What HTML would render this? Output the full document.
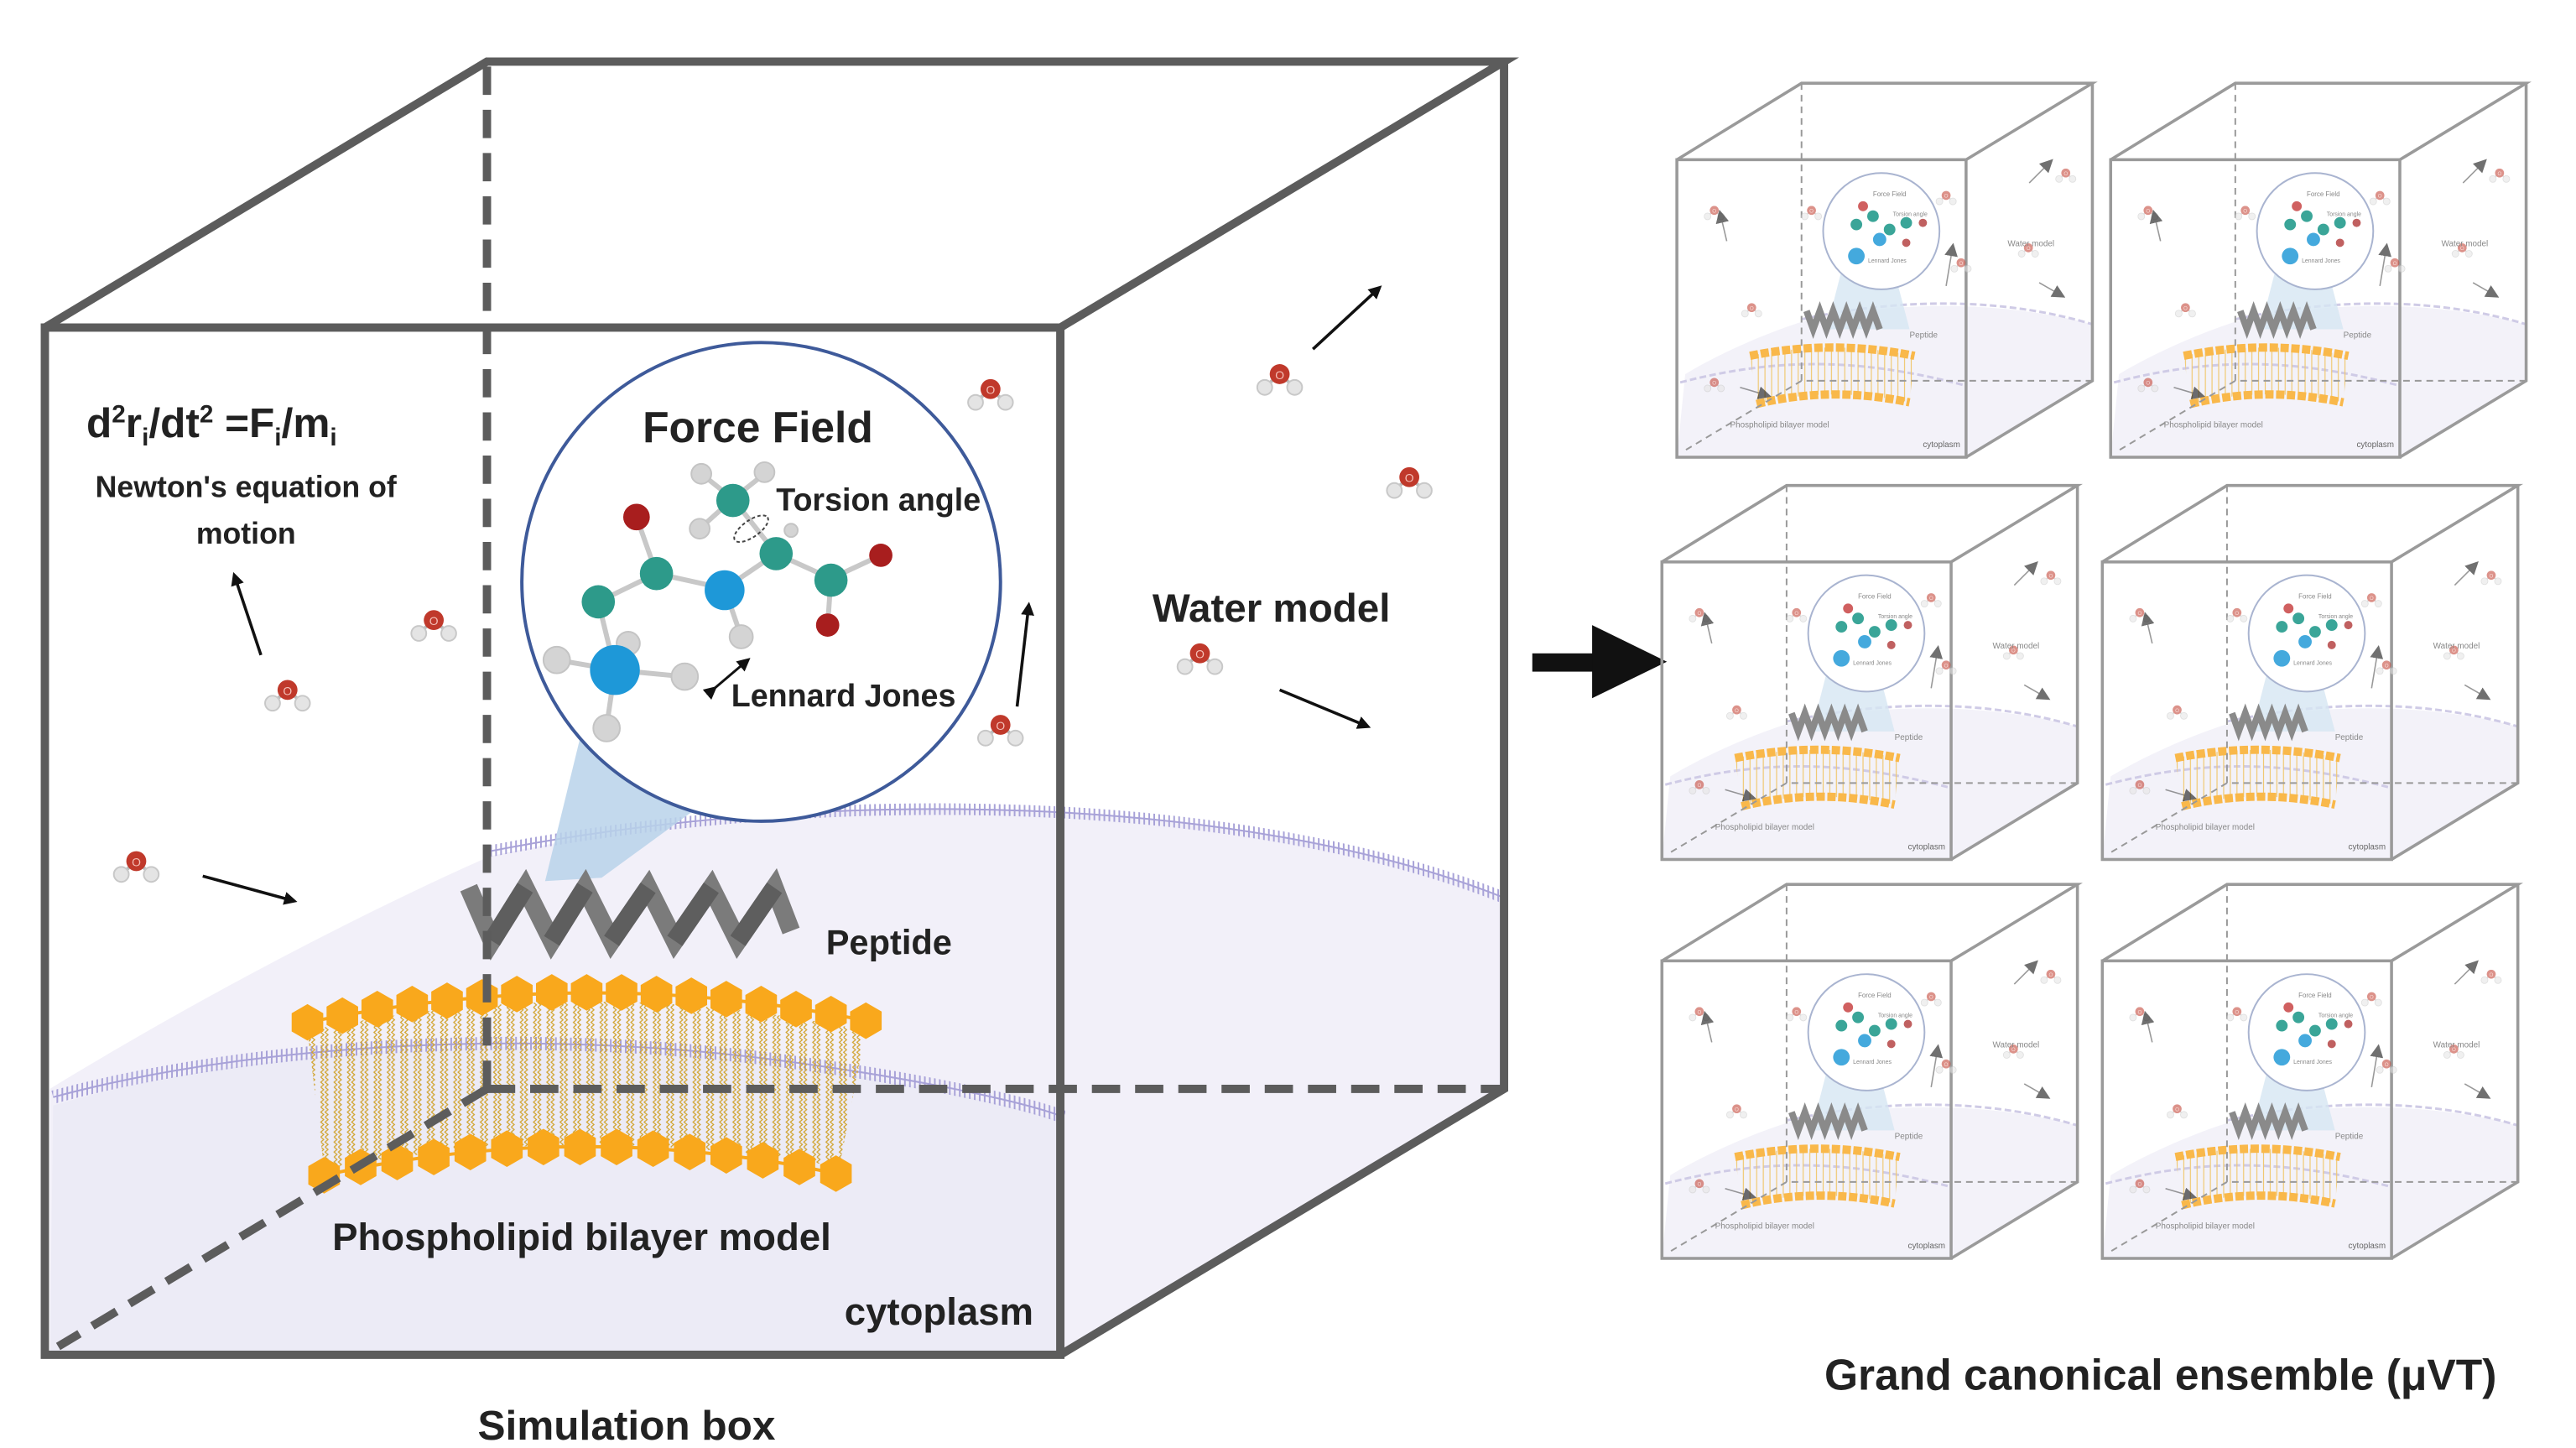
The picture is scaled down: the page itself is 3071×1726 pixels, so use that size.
<!DOCTYPE html>
<html><head><meta charset="utf-8"><style>
html,body{margin:0;padding:0;background:#fff;}
svg{display:block;}
text{font-family:"Liberation Sans Narrow","Liberation Sans",sans-serif;font-weight:bold;fill:#222;}
</style></head><body>
<svg width="3071" height="1726" viewBox="0 0 1550 871" xmlns="http://www.w3.org/2000/svg">
<defs>
<pattern id="tails" width="8" height="6" patternUnits="userSpaceOnUse">
<polyline points="1,0 2.8,1.5 1,3 2.8,4.5 1,6" fill="none" stroke="#d0a22a" stroke-width="0.6"/>
<polyline points="3.6,0 5.4,1.5 3.6,3 5.4,4.5 3.6,6" fill="none" stroke="#d0a22a" stroke-width="0.6"/>
</pattern>
<pattern id="tailsS" width="4" height="4" patternUnits="userSpaceOnUse">
<line x1="1" y1="0" x2="1" y2="4" stroke="#f0c870" stroke-width="0.6"/>
</pattern>
<pattern id="mem" width="3" height="6" patternUnits="userSpaceOnUse">
<line x1="1.5" y1="0" x2="1.5" y2="6" stroke="#a8a2d8" stroke-width="1"/>
</pattern>
<polygon id="hex" points="0,-11 9.5,-5.5 9.5,5.5 0,11 -9.5,5.5 -9.5,-5.5" fill="#f9a81c"/>
<g id="w">
<line x1="-8" y1="7" x2="0" y2="0" stroke="#bbb" stroke-width="2"/>
<line x1="8" y1="7" x2="0" y2="0" stroke="#bbb" stroke-width="2"/>
<circle cx="-9" cy="8" r="4.5" fill="#e4e4e4" stroke="#c8c8c8"/>
<circle cx="9" cy="8" r="4.5" fill="#e4e4e4" stroke="#c8c8c8"/>
<circle cx="0" cy="0" r="6" fill="#c0392b"/>
<text x="0" y="3" font-size="7" text-anchor="middle" style="fill:#f4c0b8;font-weight:normal">O</text>
</g>
<marker id="ah" markerWidth="8" markerHeight="8" refX="6" refY="4" orient="auto" markerUnits="userSpaceOnUse" viewBox="0 0 8 8">
<path d="M0,0 L8,4 L0,8 Z" fill="#111"/></marker>

<g id="sc">
<path d="M5,175 C30,160 60,148 80,142 C140,130 200,132 250,145 L250,179 L174,225 L0,225 Z" fill="#f3f2f9"/>
<path d="M75,142 C140,128 200,130 250,145" fill="none" stroke="#cfcbe6" stroke-width="1.5" stroke-dasharray="4 2"/>
<path d="M2,180 C60,165 110,165 174,182" fill="none" stroke="#cfcbe6" stroke-width="1.5" stroke-dasharray="4 2"/>
<path d="M108,78 L90,148 L140,148 L130,110 Z" fill="#d6e6f3" opacity="0.8"/>
<circle cx="123" cy="89" r="35" fill="#fff" stroke="#a9b4d0" stroke-width="1"/>
<circle cx="108" cy="85" r="3.5" fill="#3aa598"/><circle cx="118" cy="80" r="3.5" fill="#3aa598"/>
<circle cx="128" cy="88" r="3.5" fill="#3aa598"/><circle cx="138" cy="84" r="3.5" fill="#3aa598"/>
<circle cx="122" cy="94" r="4" fill="#44a9dd"/><circle cx="108" cy="104" r="5" fill="#44a9dd"/>
<circle cx="112" cy="74" r="3" fill="#d06060"/><circle cx="148" cy="84" r="2.5" fill="#c06060"/><circle cx="138" cy="96" r="2.5" fill="#c06060"/>
<text x="118" y="68" font-size="4" style="fill:#888;font-weight:normal">Force Field</text>
<text x="130" y="80" font-size="3.5" style="fill:#888;font-weight:normal">Torsion angle</text>
<text x="115" y="108" font-size="3.5" style="fill:#888;font-weight:normal">Lennard Jones</text>
<polyline points="78,137 82,148 86,137 90,148 94,137 98,148 102,137 106,148 110,137 114,148 118,137 122,148" fill="none" stroke="#8a8a8a" stroke-width="4"/>
<path d="M44,164 Q94,154 143,164 L140,192 Q92,182 48,193 Z" fill="url(#tailsS)"/>
<path d="M44,164 Q94,154 143,164" fill="none" stroke="#f9b84a" stroke-width="5" stroke-dasharray="5 1.5"/>
<path d="M48,193 Q92,182 140,192" fill="none" stroke="#f9b84a" stroke-width="5" stroke-dasharray="5 1.5"/>
<g fill="none" stroke="#9a9a9a" stroke-width="1.8">
<rect x="0" y="46" width="174" height="179"/>
<polyline points="0,46 75,0 250,0 174,46"/>
<polyline points="250,0 250,179 174,225"/>
</g>
<g fill="none" stroke="#999" stroke-width="1" stroke-dasharray="4 3">
<polyline points="75,0 75,179 250,179"/><line x1="75" y1="179" x2="3" y2="222"/>
</g>
<g opacity="0.55" transform="scale(0.45)">
<use href="#w" x="50" y="170"/><use href="#w" x="180" y="170"/><use href="#w" x="100" y="300"/><use href="#w" x="50" y="400"/>
<use href="#w" x="360" y="150"/><use href="#w" x="380" y="240"/><use href="#w" x="470" y="220"/><use href="#w" x="520" y="120"/>
</g>
<g stroke="#555" stroke-width="0.8" marker-end="url(#ah)" opacity="0.6">
<line x1="30" y1="95" x2="26" y2="78"/><line x1="38" y1="183" x2="55" y2="188"/><line x1="212" y1="60" x2="225" y2="47"/><line x1="218" y1="120" x2="232" y2="128"/><line x1="162" y1="122" x2="166" y2="98"/>
</g>
<text x="199" y="98" font-size="5" style="fill:#888;font-weight:normal">Water model</text>
<text x="140" y="153" font-size="5" style="fill:#888;font-weight:normal">Peptide</text>
<text x="32" y="207" font-size="5" style="fill:#888;font-weight:normal">Phospholipid bilayer model</text>
<text x="148" y="219" font-size="5" style="fill:#666;font-weight:normal">cytoplasm</text>
</g>
</defs>

<path d="M30,655 C120,600 220,548 295,515 C500,470 750,478 905,540 L905,655 L638,815 L30,815 Z" fill="#f2f0f9"/>
<path d="M32,665 C150,630 320,620 470,640 C560,652 620,668 640,675 L638,815 L30,815 Z" fill="#ecebf6"/>
<path d="M295,512 C500,472 750,478 905,540" fill="none" stroke="url(#mem)" stroke-width="7"/>
<path d="M295,512 C500,472 750,478 905,540" fill="none" stroke="#a8a2d8" stroke-width="1"/>
<path d="M32,660 C150,628 320,618 470,638 C560,650 620,664 640,672" fill="none" stroke="url(#mem)" stroke-width="8"/>
<path d="M32,660 C150,628 320,618 470,638 C560,650 620,664 640,672" fill="none" stroke="#a8a2d8" stroke-width="1"/>

<path d="M350,440 L328,530 L362,528 L425,482 Z" fill="#b9d2ea" opacity="0.85"/>

<g fill="none" stroke-width="11" stroke-linecap="butt">
<polyline points="282,534 296,566 316,534 332,566 352,534 368,566 390,534 406,566 428,534 444,566 466,534 476,560" stroke="#7b7b7b"/>
<line x1="296" y1="566" x2="316" y2="534" stroke="#5e5e5e"/>
<line x1="332" y1="566" x2="352" y2="534" stroke="#5e5e5e"/>
<line x1="368" y1="566" x2="390" y2="534" stroke="#5e5e5e"/>
<line x1="406" y1="566" x2="428" y2="534" stroke="#5e5e5e"/>
<line x1="444" y1="566" x2="466" y2="534" stroke="#5e5e5e"/>
</g>
<text x="497" y="574" font-size="21">Peptide</text>

<path d="M185,620 Q355,585 521,620 L505,702 Q350,675 195,703 Z" fill="url(#tails)"/>
<path d="M185,615 Q355,580 521,614" fill="none" stroke="#f9a81c" stroke-width="2"/>
<path d="M195,707 Q350,673 503,706" fill="none" stroke="#f9a81c" stroke-width="2"/>
<g>
<use href="#hex" x="185" y="615"/><use href="#hex" x="206" y="611"/><use href="#hex" x="227" y="607"/><use href="#hex" x="248" y="604"/><use href="#hex" x="269" y="602"/><use href="#hex" x="290" y="600"/><use href="#hex" x="311" y="598"/><use href="#hex" x="332" y="597"/><use href="#hex" x="353" y="597"/><use href="#hex" x="374" y="597"/><use href="#hex" x="395" y="598"/><use href="#hex" x="416" y="599"/><use href="#hex" x="437" y="601"/><use href="#hex" x="458" y="604"/><use href="#hex" x="479" y="607"/><use href="#hex" x="500" y="610"/><use href="#hex" x="521" y="614"/>
<use href="#hex" x="195" y="707"/><use href="#hex" x="217" y="702"/><use href="#hex" x="239" y="699"/><use href="#hex" x="261" y="696"/><use href="#hex" x="283" y="693"/><use href="#hex" x="305" y="691"/><use href="#hex" x="327" y="690"/><use href="#hex" x="349" y="690"/><use href="#hex" x="371" y="690"/><use href="#hex" x="393" y="691"/><use href="#hex" x="415" y="693"/><use href="#hex" x="437" y="695"/><use href="#hex" x="459" y="698"/><use href="#hex" x="481" y="702"/><use href="#hex" x="503" y="706"/>
</g>
<text x="350" y="752" font-size="23" text-anchor="middle">Phospholipid bilayer model</text>
<text x="565" y="797" font-size="23" text-anchor="middle">cytoplasm</text>

<g fill="none" stroke="#5c5c5c" stroke-width="5" stroke-dasharray="17 9">
<line x1="293" y1="40" x2="293" y2="655"/>
<line x1="293" y1="655" x2="905" y2="655"/>
<line x1="293" y1="655" x2="35" y2="810"/>
</g>
<g fill="none" stroke="#5c5c5c" stroke-width="5" stroke-linejoin="miter">
<rect x="27" y="197" width="611" height="618"/>
<polyline points="27,197 293,37 905,37 638,197"/>
<polyline points="905,37 905,655 638,815"/>
</g>

<circle cx="458" cy="350" r="144" fill="#fff" stroke="#3e5a9a" stroke-width="2"/>
<text x="456" y="266" font-size="26" text-anchor="middle">Force Field</text>
<g stroke="#c8c8c8" stroke-width="3">
<line x1="383" y1="311" x2="395" y2="345"/><line x1="395" y1="345" x2="360" y2="362"/><line x1="395" y1="345" x2="436" y2="354"/>
<line x1="436" y1="354" x2="467" y2="333"/><line x1="467" y1="333" x2="500" y2="348"/><line x1="500" y1="348" x2="530" y2="334"/>
<line x1="500" y1="348" x2="498" y2="376"/><line x1="467" y1="333" x2="441" y2="300"/><line x1="436" y1="354" x2="446" y2="383"/>
<line x1="360" y1="362" x2="370" y2="403"/><line x1="370" y1="403" x2="335" y2="397"/><line x1="370" y1="403" x2="412" y2="407"/><line x1="370" y1="403" x2="365" y2="437"/>
<line x1="441" y1="300" x2="422" y2="285"/><line x1="441" y1="300" x2="460" y2="285"/><line x1="441" y1="300" x2="421" y2="318"/>
</g>
<g fill="#d4d4d4" stroke="#c4c4c4">
<circle cx="422" cy="285" r="6"/><circle cx="460" cy="284" r="6"/><circle cx="421" cy="318" r="6"/><circle cx="476" cy="319" r="4"/>
<circle cx="335" cy="397" r="8"/><circle cx="378" cy="387" r="7"/><circle cx="412" cy="407" r="8"/><circle cx="365" cy="438" r="8"/><circle cx="446" cy="383" r="7"/>
</g>
<g fill="#2d9a8a">
<circle cx="441" cy="301" r="10"/><circle cx="395" cy="345" r="10"/><circle cx="360" cy="362" r="10"/><circle cx="467" cy="333" r="10"/><circle cx="500" cy="349" r="10"/>
</g>
<circle cx="436" cy="355" r="12" fill="#1e98d8"/><circle cx="370" cy="403" r="15" fill="#1e98d8"/>
<g fill="#a81e1e"><circle cx="383" cy="311" r="8"/><circle cx="530" cy="334" r="7"/><circle cx="498" cy="376" r="7"/></g>
<ellipse cx="452" cy="318" rx="12" ry="5" transform="rotate(-35 452 318)" fill="none" stroke="#444" stroke-width="1" stroke-dasharray="2 1.5"/>
<text x="467" y="307" font-size="19">Torsion angle</text>
<line x1="430" y1="414" x2="450" y2="397" stroke="#111" stroke-width="1.5" marker-end="url(#ah)" marker-start="url(#ah)"/>
<text x="440" y="425" font-size="19">Lennard Jones</text>

<text x="52" y="263" font-size="25">d<tspan font-size="15" dy="-9">2</tspan><tspan dy="9">r</tspan><tspan font-size="15" dy="5">i</tspan><tspan dy="-5">/dt</tspan><tspan font-size="15" dy="-9">2</tspan><tspan dy="9"> =F</tspan><tspan font-size="15" dy="5">i</tspan><tspan dy="-5">/m</tspan><tspan font-size="15" dy="5">i</tspan></text>
<text x="148" y="299" font-size="18" text-anchor="middle">Newton's equation of</text>
<text x="148" y="327" font-size="18" text-anchor="middle">motion</text>
<text x="765" y="374" font-size="24" text-anchor="middle">Water model</text>

<use href="#w" x="596" y="234"/><use href="#w" x="770" y="225"/><use href="#w" x="848" y="287"/><use href="#w" x="261" y="373"/>
<use href="#w" x="173" y="415"/><use href="#w" x="602" y="436"/><use href="#w" x="722" y="393"/><use href="#w" x="82" y="518"/>
<g stroke="#111" stroke-width="1.8" marker-end="url(#ah)">
<line x1="157" y1="394" x2="141" y2="346"/><line x1="790" y1="210" x2="830" y2="173"/><line x1="612" y1="425" x2="619" y2="364"/>
<line x1="770" y1="415" x2="823" y2="437"/><line x1="122" y1="527" x2="177" y2="542"/>
</g>

<text x="377" y="866" font-size="25" text-anchor="middle">Simulation box</text>

<rect x="922" y="393" width="42" height="11" fill="#111"/>
<path d="M958,376 L1003,398 L958,420 Z" fill="#111"/>

<use href="#sc" x="1009" y="50"/><use href="#sc" x="1270" y="50"/>
<use href="#sc" x="1000" y="292"/><use href="#sc" x="1265" y="292"/>
<use href="#sc" x="1000" y="532"/><use href="#sc" x="1265" y="532"/>

<text x="1300" y="836" font-size="26" text-anchor="middle">Grand canonical ensemble (μVT)</text>
</svg>
</body></html>
